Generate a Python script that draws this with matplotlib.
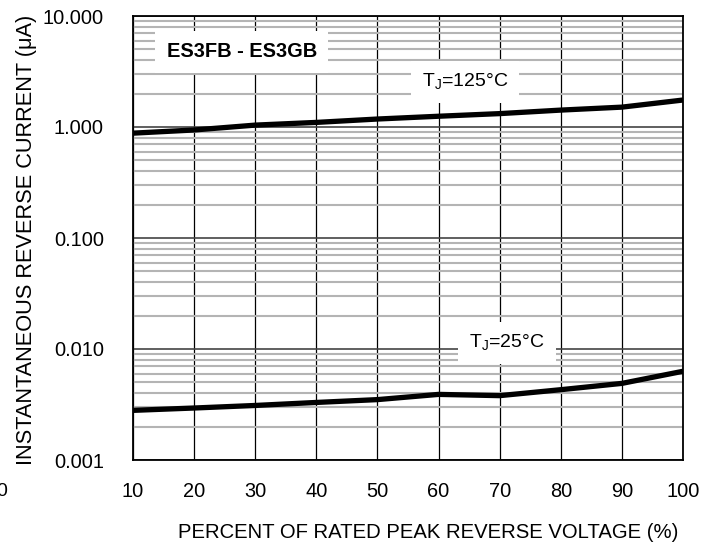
import matplotlib
matplotlib.use("Agg")
import matplotlib.pyplot as plt
from matplotlib.ticker import LogLocator, NullFormatter
import numpy as np

plt.rcParams['font.family'] = ['Liberation Sans', 'DejaVu Sans']
plt.rcParams['mathtext.fontset'] = 'custom'
plt.rcParams['mathtext.rm'] = 'Liberation Sans'

# percent of rated peak reverse voltage
pct = [10, 20, 30, 40, 50, 60, 70, 80, 90, 100]
# reverse current (uA)
ir_125 = [0.88, 0.94, 1.04, 1.10, 1.18, 1.25, 1.32, 1.42, 1.51, 1.75]
ir_25 = [0.0028, 0.00294, 0.0031, 0.0033, 0.0035, 0.0039, 0.0038, 0.0043, 0.0049, 0.0063]

y_ticks = [0.001, 0.01, 0.1, 1.0, 10.0]
y_labels = ['0.001', '0.010', '0.100', '1.000', '10.000']

fig = plt.figure(figsize=(7.16, 5.44), dpi=100)
ax = fig.add_axes([133 / 716, 1 - 460 / 544, 550 / 716, 444 / 544])

ax.set_yscale('log')
ax.set_xlim(10, 100)
ax.set_ylim(0.001, 10)

# grid: light minor, darker decades, black verticals
ax.yaxis.set_minor_locator(LogLocator(base=10, subs=np.arange(2, 10)))
ax.yaxis.set_minor_formatter(NullFormatter())
ax.grid(which='minor', axis='y', color='#b4b4b4', lw=1.5)
ax.grid(which='major', axis='y', color='#444444', lw=1.2)
ax.grid(which='major', axis='x', color='black', lw=0.9)
ax.set_axisbelow(True)

ax.plot(pct, ir_125, color='black', lw=3.8, solid_capstyle='round')
ax.plot(pct, ir_25, color='black', lw=3.8, solid_capstyle='round')

ax.set_xticks(pct)
ax.set_yticks(y_ticks)
ax.set_yticklabels(y_labels)
ax.tick_params(which='both', length=0, labelsize=14.4)
ax.tick_params(axis='y', pad=21)
ax.tick_params(axis='x', pad=16)
for s in ax.spines.values():
    s.set_linewidth(1.3)

ax.set_xlabel('PERCENT OF RATED PEAK REVERSE VOLTAGE (%)', fontsize=14.6)
ax.xaxis.set_label_coords(0.536, -0.142)
ax.set_ylabel('INSTANTANEOUS REVERSE CURRENT (\u03bcA)', fontsize=15.7)
ax.yaxis.set_label_coords(-0.174, 0.4955)

box = dict(facecolor='white', edgecolor='none', pad=8)
ax.text(27.8, 4.74, 'ES3FB - ES3GB', fontsize=14.4, fontweight='bold',
        ha='center', va='center', bbox=box)
ax.text(64.3, 2.54, r'T$_\mathregular{J}$=125°C', fontsize=14,
        ha='center', va='center', bbox=box)
ax.text(71.2, 0.0113, r'T$_\mathregular{J}$=25°C', fontsize=14,
        ha='center', va='center', bbox=box)

fig.text(-4 / 716, 1 - 492 / 544, '0', fontsize=14, ha='left', va='center')

fig.savefig('out.png', dpi=100)
